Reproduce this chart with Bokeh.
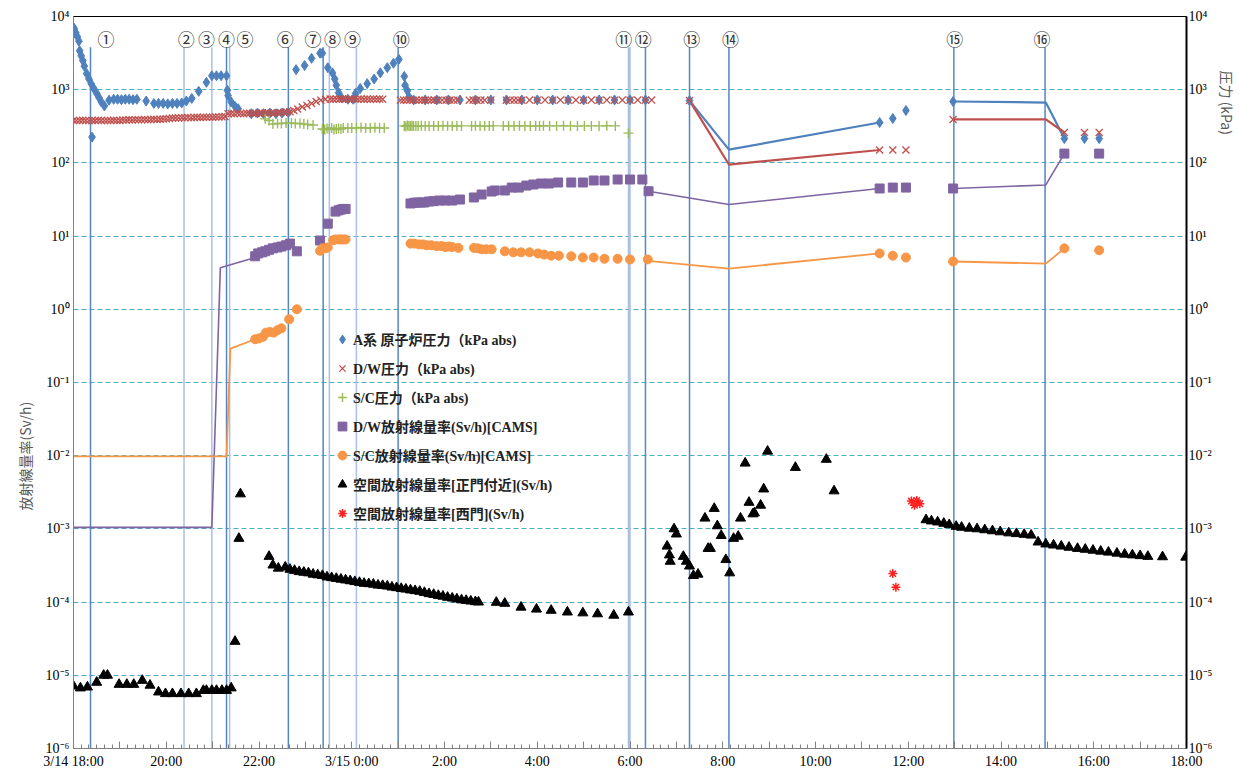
import math
from bokeh.plotting import figure
from bokeh.models import (Range1d, LogAxis, LogScale, FixedTicker, CustomJSTickFormatter,
                          Legend, LegendItem, Title)
from bokeh.core.properties import value
from bokeh.embed import file_html
from bokeh.resources import INLINE

# ---------------- data (x = minutes after 3/14 18:00) ----------------
# A系 原子炉圧力 (kPa abs)
rp_t = [0, 1, 3, 5, 7, 8, 10, 12, 14, 17, 20, 23, 24, 26, 30, 33, 36, 40, 46, 52, 57, 62, 67, 72, 77, 82,
        94, 104, 110, 116, 122, 128, 134, 140, 146, 153, 162, 172, 179, 185, 191, 198, 199, 200, 204, 209, 213,
        230, 238, 246, 254, 262, 270, 278, 288, 299, 308, 319, 322, 329, 335, 338, 340, 343, 347, 355, 362,
        365, 371, 380, 389, 397, 406, 414, 421, 428, 429, 432, 434,
        440, 455, 470, 485, 500, 520, 540, 560, 580, 600, 620, 640, 660, 680, 700, 720, 740,
        797, 1043, 1060, 1077, 1138, 1282, 1308, 1327]
rp_v = [7100, 6700, 6000, 5300, 4600, 3400, 2900, 2500, 2100, 1660, 1400, 1200, 225, 1050, 890, 780, 680, 600,
        720, 740, 740, 730, 740, 740, 730, 740,
        700, 650, 650, 650, 640, 650, 650, 660, 700, 760, 950, 1260, 1550, 1550, 1550, 1550, 980, 830, 680, 590, 550,
        470, 480, 470, 480, 470, 480, 490, 1880, 2140, 2680, 3150, 3150, 2000, 1700, 1400, 1150, 910, 770, 740, 740,
        890, 1040, 1210, 1400, 1700, 2000, 2300, 2600, 1520, 1150, 970, 800,
        725, 725, 725, 725, 725, 725, 725, 725, 725, 725, 725, 725, 725, 725, 725, 725, 725,
        710, 356, 405, 520, 690, 215, 215, 215]
rp_line1_t = [797, 848, 1043]
rp_line1_v = [710, 152, 356]
rp_line2_t = [1138, 1258, 1282]
rp_line2_v = [690, 668, 215]

# D/W圧力 (kPa abs)
dw_t = [0, 4, 8, 12, 16, 20, 24, 28, 32, 36, 40, 44, 48, 52, 56, 60, 64, 68, 72, 76, 80, 84, 88, 92, 96, 100,
        104, 108, 112, 116, 120, 124, 128, 132, 136, 140, 144, 148, 152, 156, 160, 164, 168, 172, 176, 180, 184,
        188, 192, 196, 200, 204, 208, 212, 216, 220, 224, 228, 232, 236, 240, 244, 248, 252, 256, 260, 264, 268,
        272, 276, 280, 285, 290, 296, 302, 308, 314, 320, 326, 332, 336, 340, 344, 348, 352, 356, 360, 364, 368,
        372, 376, 380, 384, 388, 392, 396, 400,
        423, 427, 431, 435, 439, 443, 447, 451, 455, 459, 463, 467, 472, 477, 482, 487, 492, 497, 512, 517, 522,
        527, 532, 540, 560, 565, 570, 575, 580, 590, 600, 610, 620, 630, 640, 650, 660, 670, 680, 690, 700, 710,
        720, 730, 740, 748,
        797, 1043, 1060, 1077, 1138, 1282, 1308, 1327]
dw_v = [380, 378, 380, 382, 380, 378, 380, 380, 382, 380, 378, 380, 380, 382, 380, 380, 385, 385, 388, 385, 390,
        388, 390, 392, 390, 392, 395, 392, 395, 398, 400, 405, 410, 410, 412, 415, 415, 418, 415, 418, 420, 418,
        420, 420, 422, 420, 425, 425, 428, 430, 470, 472, 470, 475, 472, 470, 475, 478, 472, 475, 478, 480, 478,
        480, 482, 480, 485, 488, 490, 495, 500, 520, 545, 580, 610, 650, 690, 720, 740, 745, 740, 745, 740, 745,
        740, 745, 740, 745, 740, 745, 740, 745, 740, 745, 740, 745, 740,
        720, 722, 720, 722, 720, 722, 720, 722, 720, 722, 720, 722, 720, 722, 720, 722, 720, 722, 720, 722, 720,
        722, 720, 722, 720, 722, 720, 722, 720, 722, 720, 722, 720, 722, 720, 722, 720, 722, 720, 722, 720, 722,
        720, 722, 720, 722,
        710, 150, 150, 150, 392, 260, 260, 260]
dw_line1_t = [797, 848, 1043]
dw_line1_v = [710, 95, 150]
dw_line2_t = [1138, 1258, 1282]
dw_line2_v = [392, 392, 260]

# S/C圧力 (kPa abs)
sc_t = [248, 253, 258, 264, 269, 275, 282, 287, 293, 298, 303, 310,
        322, 325, 328, 331, 334, 337, 340, 343, 346, 349,
        355, 360, 366, 372, 378, 384, 390, 396, 402,
        428, 430, 432, 434, 436, 438, 440, 443, 446, 450, 455, 460, 466, 472, 478, 484, 490, 496, 502,
        515, 520, 526, 532, 538, 543, 556, 563, 570, 577, 584, 591, 598, 603, 608,
        616, 625, 634, 643, 652, 661, 670, 680, 690, 701, 718]
sc_v = [400, 380, 340, 345, 345, 350, 350, 345, 345, 340, 335, 330,
        290, 285, 295, 290, 300, 285, 290, 295, 290, 300,
        300, 300, 300, 305, 300, 300, 305, 300, 300,
        320, 315, 325, 320, 318, 322, 320, 318, 320, 322, 320, 320, 318, 320, 322, 320, 320, 318, 320,
        320, 322, 320, 318, 320, 320, 320, 318, 320, 322, 320, 320, 318, 320, 322,
        320, 320, 322, 320, 318, 320, 320, 320, 322, 320, 255]

# D/W放射線量率 (Sv/h) [CAMS]
dwr_t = [235, 239, 244, 248, 253, 258, 264, 269, 275, 280, 289,
         319, 329, 339, 343, 346, 349, 352,
         436, 441, 445, 450, 454, 460, 466, 473, 481, 490, 500, 518, 528, 541, 545, 558, 567, 576, 586, 595, 605,
         615, 627, 644, 659, 673, 687, 704, 720, 736, 744,
         1043, 1060, 1077, 1138, 1282, 1327]
dwr_v = [5.3, 5.8, 6.0, 6.2, 6.5, 6.8, 7.0, 7.2, 7.5, 7.9, 6.2,
         8.7, 14.8, 21.6, 22.5, 23.0, 23.5, 23.5,
         27.9, 28.5, 28.8, 28.8, 28.8, 29.7, 30.0, 30.6, 30.6, 30.6, 31.6, 33.7, 37.0, 40.6, 42.0, 42.0, 46.0,
         46.0, 49.0, 50.7, 52.3, 52.3, 54.0, 54.0, 54.0, 57.5, 57.5, 59.3, 59.3, 59.3, 41.0,
         44.7, 46.0, 46.0, 44.7, 134, 134]
dwr_line1_t = [0, 179, 190, 235]
dwr_line1_v = [1.05e-3, 1.05e-3, 3.7, 5.1]
dwr_line2_t = [744, 848, 1043]
dwr_line2_v = [41.0, 27.0, 44.7]
dwr_line3_t = [1138, 1258, 1282]
dwr_line3_v = [44.7, 50.0, 134]

# S/C放射線量率 (Sv/h) [CAMS]
scr_t = [235, 240, 245, 249, 254, 259, 264, 269, 279, 289,
         319, 322, 326, 329, 336, 339, 343, 346, 349, 352,
         436, 441, 447, 452, 457, 463, 470, 476, 481, 486, 490, 498, 518, 523, 528, 534, 541, 558, 569, 579,
         590, 601, 609, 618, 628, 644, 659, 673, 687, 704, 720, 743,
         1043, 1060, 1077, 1138, 1282, 1327]
scr_v = [0.39, 0.40, 0.42, 0.48, 0.49, 0.48, 0.52, 0.55, 0.73, 1.0,
         6.3, 6.8, 6.8, 7.0, 8.8, 9.0, 9.0, 9.0, 9.0, 9.0,
         7.9, 7.9, 7.7, 7.7, 7.5, 7.5, 7.3, 7.3, 7.1, 7.2, 7.1, 6.9, 6.9, 6.8, 6.6, 6.6, 6.6, 6.2, 6.0, 6.0,
         6.0, 5.8, 5.6, 5.4, 5.4, 5.3, 5.1, 5.1, 4.9, 4.9, 4.8, 4.8,
         5.8, 5.4, 5.1, 4.5, 6.8, 6.4]
scr_line1_t = [0, 198, 203, 235]
scr_line1_v = [9.8e-3, 9.8e-3, 0.29, 0.39]
scr_line2_t = [743, 848, 1043]
scr_line2_v = [4.6, 3.6, 5.8]
scr_line3_t = [1138, 1258, 1282]
scr_line3_v = [4.5, 4.2, 6.8]

# 空間放射線量率[正門付近] (Sv/h)
amb_t = [0, 9, 18, 30, 39, 44, 59, 69, 78, 89, 99, 110, 119, 128, 139, 149, 159, 168, 172, 179, 185, 192, 198,
         204, 209, 214, 216,
         253, 258, 265, 274,
         280, 286, 292, 298, 304, 310, 316, 322, 328, 334, 340, 346, 352, 358, 364, 370, 376, 382, 388, 394, 400,
         406, 412, 418, 424, 430, 436, 442, 448, 454, 460, 466, 472, 478, 484, 490, 496, 502, 508, 514, 520, 524,
         547, 558, 579, 599, 618, 639, 659, 678, 699, 718,
         768, 771, 772, 777, 780, 789, 793, 797, 802, 808, 817, 821, 824, 829, 833, 838, 844, 849, 854, 860, 863,
         869, 874, 879, 881, 889, 893, 898, 934, 974, 984,
         1103, 1110, 1118, 1126, 1133, 1142, 1149, 1159, 1169, 1179, 1189, 1199, 1210, 1220, 1230, 1239, 1248,
         1258, 1268, 1278, 1288, 1299, 1309, 1319, 1329, 1339, 1350, 1360, 1370, 1380, 1390, 1409, 1439]
amb_v = [7.1e-6, 6.7e-6, 6.9e-6, 8.0e-6, 1.0e-5, 1.0e-5, 7.5e-6, 7.5e-6, 7.5e-6, 8.5e-6, 7.3e-6, 5.9e-6,
         5.6e-6, 5.6e-6, 5.6e-6, 5.6e-6, 5.6e-6, 6.2e-6, 6.2e-6, 6.2e-6, 6.2e-6, 6.2e-6, 6.2e-6,
         6.7e-6, 2.9e-5, 7.4e-4, 3.0e-3,
         4.2e-4, 3.2e-4, 2.9e-4, 3.0e-4,
         2.8e-4, 2.7e-4, 2.6e-4, 2.55e-4, 2.5e-4, 2.4e-4, 2.35e-4, 2.3e-4, 2.2e-4, 2.15e-4, 2.1e-4, 2.05e-4,
         2.0e-4, 1.95e-4, 1.9e-4, 1.85e-4, 1.8e-4, 1.78e-4, 1.75e-4, 1.7e-4, 1.68e-4, 1.65e-4, 1.6e-4, 1.57e-4,
         1.53e-4, 1.5e-4, 1.46e-4, 1.43e-4, 1.4e-4, 1.35e-4, 1.3e-4, 1.27e-4, 1.23e-4, 1.2e-4, 1.16e-4, 1.13e-4,
         1.1e-4, 1.07e-4, 1.05e-4, 1.03e-4, 1.01e-4, 1.0e-4,
         9.9e-5, 9.6e-5, 8.5e-5, 8.0e-5, 7.7e-5, 7.3e-5, 7.1e-5, 6.9e-5, 6.6e-5, 7.3e-5,
         5.8e-4, 4.4e-4, 3.6e-4, 1.0e-3, 8.5e-4, 4.2e-4, 3.6e-4, 3.1e-4, 2.3e-4, 2.4e-4, 1.4e-3, 5.4e-4, 5.4e-4,
         1.9e-3, 1.1e-3, 8.1e-4, 3.8e-4, 2.5e-4, 7.4e-4, 7.9e-4, 1.4e-3, 7.9e-3, 2.3e-3, 1.6e-3, 1.65e-3,
         2.1e-3, 3.5e-3, 1.15e-2, 6.9e-3, 8.9e-3, 3.3e-3,
         1.33e-3, 1.28e-3, 1.24e-3, 1.19e-3, 1.14e-3, 1.08e-3, 1.05e-3, 1.02e-3, 1.0e-3, 9.7e-4, 9.4e-4,
         9.1e-4, 8.8e-4, 8.6e-4, 8.4e-4, 8.2e-4, 6.6e-4, 6.2e-4, 6.0e-4, 5.8e-4, 5.6e-4, 5.4e-4, 5.25e-4,
         5.1e-4, 4.95e-4, 4.8e-4, 4.65e-4, 4.5e-4, 4.4e-4, 4.3e-4, 4.2e-4, 4.15e-4, 4.1e-4]

# 空間放射線量率[西門] (Sv/h)
west_t = [1060, 1064, 1084, 1088, 1091, 1095]
west_v = [2.45e-4, 1.6e-4, 2.4e-3, 2.1e-3, 2.45e-3, 2.2e-3]

# events ①..⑯
ev_names = ["①", "②", "③", "④", "⑤", "⑥", "⑦", "⑧", "⑨", "⑩", "⑪", "⑫", "⑬", "⑭", "⑮", "⑯"]
ev_t = [22, 143, 179, 198, 202, 278, 323, 331, 366, 420, 719, 740, 797, 848, 1139, 1257]
ev_label_t = [42, 146, 172, 198, 222, 274, 310, 335, 361, 424, 712, 737, 800, 850, 1140, 1253]

# ---------------- figure ----------------
SERIF = "'Liberation Serif', 'Noto Sans CJK JP'"
CJK = "'Noto Sans CJK JP'"

p = figure(width=1239, height=776, x_range=Range1d(0, 1440), y_range=Range1d(1e-6, 1e4),
           y_axis_type="log", output_backend="svg", toolbar_location=None,
           min_border_left=73, min_border_right=45, min_border_top=16, min_border_bottom=28)
p.outline_line_color = "black"
p.outline_line_width = 1
p.background_fill_color = "white"

decades = [10.0 ** k for k in range(-6, 5)]
yfmt_code = """
const e = Math.round(Math.log10(tick));
const s = {"-":"\u207b","0":"\u2070","1":"\u00b9","2":"\u00b2","3":"\u00b3","4":"\u2074","5":"\u2075","6":"\u2076","7":"\u2077","8":"\u2078","9":"\u2079"};
return "10" + String(e).split("").map(c => s[c]).join("");
"""

# x axis
p.xaxis.ticker = FixedTicker(ticks=list(range(0, 1441, 60)), minor_ticks=list(range(0, 1441, 10)))
p.xaxis.formatter = CustomJSTickFormatter(code="""
const m = Math.round(tick);
if (m % 120 !== 0) return "";
if (m === 0) return "3/14 18:00";
if (m === 360) return "3/15 0:00";
const h = (18 + m / 60) % 24;
return h + ":00";
""")
p.xaxis.major_tick_in = 7
p.xaxis.major_tick_out = 0
p.xaxis.minor_tick_in = 4
p.xaxis.minor_tick_out = 0
p.xaxis.axis_line_color = "#808080"
p.xaxis.major_tick_line_color = "#808080"
p.xaxis.minor_tick_line_color = "#808080"
p.xaxis.major_label_text_font = SERIF
p.xaxis.major_label_text_font_size = "14px"
p.xaxis.major_label_text_color = "black"
p.xaxis.major_label_standoff = 5

# left y axis
p.yaxis.ticker = FixedTicker(ticks=decades, minor_ticks=[])
p.yaxis.formatter = CustomJSTickFormatter(code=yfmt_code)
p.yaxis.major_tick_in = 0
p.yaxis.major_tick_out = 0
p.yaxis.axis_line_color = "#808080"
p.yaxis.major_label_text_font = SERIF
p.yaxis.major_label_text_font_size = "14px"
p.yaxis.major_label_text_color = "black"
p.yaxis.major_label_standoff = 4

# right y axis (pressure)
p.extra_y_ranges = {"r": Range1d(1e-6, 1e4)}
p.extra_y_scales = {"r": LogScale()}
raxis = LogAxis(y_range_name="r", ticker=FixedTicker(ticks=decades, minor_ticks=[]),
                formatter=CustomJSTickFormatter(code=yfmt_code))
raxis.axis_line_color = "black"
raxis.axis_line_width = 2
raxis.major_tick_in = 0
raxis.major_tick_out = 0
raxis.major_label_text_font = SERIF
raxis.major_label_text_font_size = "14px"
raxis.major_label_text_color = "black"
raxis.major_label_standoff = 2
p.add_layout(raxis, "right")

# grid
p.xgrid.visible = False
p.ygrid.ticker = FixedTicker(ticks=[10.0 ** k for k in range(-5, 4)], minor_ticks=[])
p.ygrid.grid_line_color = "#4bacc6"
p.ygrid.grid_line_dash = "5 3"
p.ygrid.grid_line_width = 1

# event lines
dark, light = "#5585c5", "#a9c0e2"
ev_colors = [dark, light, light, dark, light, dark, dark, light, light, dark, light, dark, dark, dark, dark, dark]
ev_widths = [1.5] * 10 + [3] + [1.5] * 5
p.segment(x0=ev_t, y0=[1e-6] * len(ev_t), x1=ev_t, y1=[3800] * len(ev_t),
          line_color=ev_colors, line_width=ev_widths)
p.text(x=ev_label_t, y=[5000] * len(ev_t), text=ev_names, text_align="center", text_baseline="middle",
       text_font=value("Noto Sans CJK JP"), text_font_size="17px", text_color="#333333")

# connecting lines
BLUE, RED, GREEN, PURPLE, ORANGE = "#4f81bd", "#c0504d", "#9bbb59", "#8064a2", "#f79646"
for tt, vv in [(rp_line1_t, rp_line1_v), (rp_line2_t, rp_line2_v)]:
    p.line(tt, vv, line_color=BLUE, line_width=2.2)
for tt, vv in [(dw_line1_t, dw_line1_v), (dw_line2_t, dw_line2_v)]:
    p.line(tt, vv, line_color=RED, line_width=2.2)
for tt, vv in [(dwr_line1_t, dwr_line1_v), (dwr_line2_t, dwr_line2_v), (dwr_line3_t, dwr_line3_v)]:
    p.line(tt, vv, line_color=PURPLE, line_width=1.6)
for tt, vv in [(scr_line1_t, scr_line1_v), (scr_line2_t, scr_line2_v), (scr_line3_t, scr_line3_v)]:
    p.line(tt, vv, line_color=ORANGE, line_width=1.8)

# markers
r_rp = p.scatter(rp_t, rp_v, marker="diamond", size=10, fill_color=BLUE, line_color=BLUE)
r_dw = p.scatter(dw_t, dw_v, marker="x", size=10, line_color=RED, line_width=1.3)
r_sc = p.scatter(sc_t, sc_v, marker="cross", size=10, line_color=GREEN, line_width=1.4)
r_dwr = p.scatter(dwr_t, dwr_v, marker="square", size=9, fill_color=PURPLE, line_color=PURPLE)
r_scr = p.scatter(scr_t, scr_v, marker="circle", size=9, fill_color=ORANGE, line_color=ORANGE)
r_amb = p.scatter(amb_t, amb_v, marker="triangle", size=10, fill_color="black", line_color="black")
r_west = p.scatter(west_t, west_v, marker="asterisk", size=9, line_color="#ff2020", line_width=1.5)

legend = Legend(items=[
    LegendItem(label="A系 原子炉圧力（kPa abs)", renderers=[r_rp]),
    LegendItem(label="D/W圧力（kPa abs)", renderers=[r_dw]),
    LegendItem(label="S/C圧力（kPa abs)", renderers=[r_sc]),
    LegendItem(label="D/W放射線量率(Sv/h)[CAMS]", renderers=[r_dwr]),
    LegendItem(label="S/C放射線量率(Sv/h)[CAMS]", renderers=[r_scr]),
    LegendItem(label="空間放射線量率[正門付近](Sv/h)", renderers=[r_amb]),
    LegendItem(label="空間放射線量率[西門](Sv/h)", renderers=[r_west]),
], location=(258, 224))
legend.background_fill_alpha = 0
legend.border_line_color = None
legend.padding = 0
legend.margin = 0
legend.spacing = 7
legend.glyph_width = 22
legend.glyph_height = 22
legend.label_height = 22
legend.label_standoff = 0
legend.label_text_font = SERIF
legend.label_text_font_size = "14px"
legend.label_text_font_style = "bold"
legend.label_text_color = "#222222"
p.add_layout(legend)

# axis titles
lt = Title(text="放射線量率(Sv/h)", align="left", offset=238, standoff=16,
           text_font=CJK, text_font_size="14px", text_font_style="normal", text_color="#595959")
p.add_layout(lt, "left")
rt = Title(text="圧力 (kPa)", align="left", offset=54, standoff=2,
           text_font=CJK, text_font_size="14px", text_font_style="normal", text_color="#595959")
p.add_layout(rt, "right")

open("out.html", "w").write(file_html(p, INLINE))
